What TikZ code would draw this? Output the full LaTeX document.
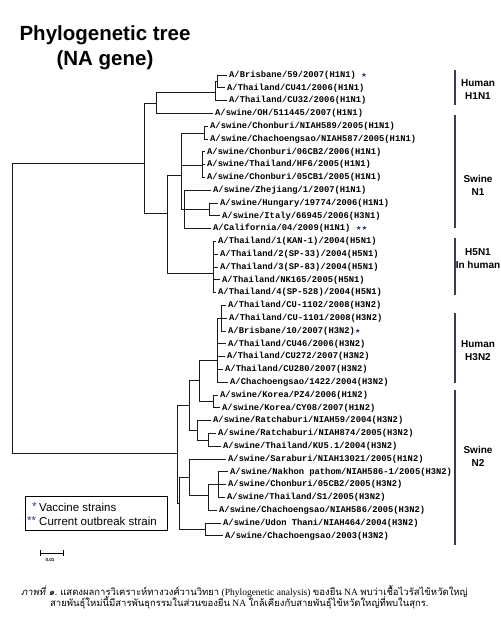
\documentclass[tikz,border=0pt]{standalone}
\usepackage{fontspec}
\setmainfont{Liberation Serif}
\newfontfamily\leafmono{Liberation Mono}
\newfontfamily\arialf{Liberation Sans}
\newfontfamily\thaif[Script=Thai]{Loma}
\newfontfamily\thaislant[Script=Thai,FakeSlant=0.2]{Loma}
\newfontfamily\symf{DejaVu Sans}
\definecolor{treeclr}{HTML}{1A1A1A}
\definecolor{barclr}{HTML}{3A3D4F}
\definecolor{starclr}{HTML}{2B3A7A}
\newcommand{\vstar}{{\symf\fontsize{6.5}{7}\selectfont\color{starclr}★}}
\begin{document}
\begin{tikzpicture}[x=1pt,y=-1pt,
  leaf/.style={anchor=west, inner sep=0pt, font=\leafmono\bfseries\fontsize{8.8}{10}\selectfont},
  br/.style={draw=treeclr, line width=0.9pt},
  grp/.style={align=center, inner sep=0pt, font=\arialf\bfseries\fontsize{10}{13}\selectfont},
  bar/.style={draw=barclr, line width=1.1pt},
  legtext/.style={anchor=west, inner sep=0pt, font=\arialf\fontsize{11.5}{13}\selectfont},
  captxt/.style={anchor=west, inner sep=0pt, font=\fontsize{9.5}{11}\selectfont}]
\useasboundingbox (0,0) rectangle (500,631);
\fill[white] (0,0) rectangle (500,631);

% title
\node[align=center, inner sep=0pt, font=\arialf\bfseries\fontsize{20.5}{25}\selectfont] (title) at (105,47.5) {Phylogenetic tree\\(NA gene)};

% leaves
\node[leaf] (l1) at (229,75.0) {A/Brisbane/59/2007(H1N1) \vstar};
\node[leaf] (l2) at (227,87.8) {A/Thailand/CU41/2006(H1N1)};
\node[leaf] (l3) at (229,100.6) {A/Thailand/CU32/2006(H1N1)};
\node[leaf] (l4) at (215,113.4) {A/swine/OH/511445/2007(H1N1)};
\node[leaf] (l5) at (210,126.2) {A/swine/Chonburi/NIAH589/2005(H1N1)};
\node[leaf] (l6) at (210,139.0) {A/swine/Chachoengsao/NIAH587/2005(H1N1)};
\node[leaf] (l7) at (207,151.8) {A/swine/Chonburi/06CB2/2006(H1N1)};
\node[leaf] (l8) at (207,164.6) {A/swine/Thailand/HF6/2005(H1N1)};
\node[leaf] (l9) at (207,177.4) {A/swine/Chonburi/05CB1/2005(H1N1)};
\node[leaf] (l10) at (213,190.2) {A/swine/Zhejiang/1/2007(H1N1)};
\node[leaf] (l11) at (220,203.0) {A/swine/Hungary/19774/2006(H1N1)};
\node[leaf] (l12) at (222,215.8) {A/swine/Italy/66945/2006(H3N1)};
\node[leaf] (l13) at (213,228.6) {A/California/04/2009(H1N1) \vstar\vstar};
\node[leaf] (l14) at (218,241.4) {A/Thailand/1(KAN-1)/2004(H5N1)};
\node[leaf] (l15) at (220,254.2) {A/Thailand/2(SP-33)/2004(H5N1)};
\node[leaf] (l16) at (220,267.0) {A/Thailand/3(SP-83)/2004(H5N1)};
\node[leaf] (l17) at (222,279.8) {A/Thailand/NK165/2005(H5N1)};
\node[leaf] (l18) at (218,292.6) {A/Thailand/4(SP-528)/2004(H5N1)};
\node[leaf] (l19) at (228,305.4) {A/Thailand/CU-1102/2008(H3N2)};
\node[leaf] (l20) at (229,318.2) {A/Thailand/CU-1101/2008(H3N2)};
\node[leaf] (l21) at (228,331.0) {A/Brisbane/10/2007(H3N2)\vstar};
\node[leaf] (l22) at (228,343.8) {A/Thailand/CU46/2006(H3N2)};
\node[leaf] (l23) at (227,356.6) {A/Thailand/CU272/2007(H3N2)};
\node[leaf] (l24) at (225,369.4) {A/Thailand/CU280/2007(H3N2)};
\node[leaf] (l25) at (230,382.2) {A/Chachoengsao/1422/2004(H3N2)};
\node[leaf] (l26) at (220,395.0) {A/swine/Korea/PZ4/2006(H1N2)};
\node[leaf] (l27) at (222,407.8) {A/swine/Korea/CY08/2007(H1N2)};
\node[leaf] (l28) at (213,420.6) {A/swine/Ratchaburi/NIAH59/2004(H3N2)};
\node[leaf] (l29) at (218,433.4) {A/swine/Ratchaburi/NIAH874/2005(H3N2)};
\node[leaf] (l30) at (223,446.2) {A/swine/Thailand/KU5.1/2004(H3N2)};
\node[leaf] (l31) at (228,459.0) {A/swine/Saraburi/NIAH13021/2005(H1N2)};
\node[leaf] (l32) at (230,471.8) {A/swine/Nakhon pathom/NIAH586-1/2005(H3N2)};
\node[leaf] (l33) at (228,484.6) {A/swine/Chonburi/05CB2/2005(H3N2)};
\node[leaf] (l34) at (227,497.4) {A/swine/Thailand/S1/2005(H3N2)};
\node[leaf] (l35) at (219,510.2) {A/swine/Chachoengsao/NIAH586/2005(H3N2)};
\node[leaf] (l36) at (223,523.0) {A/swine/Udon Thani/NIAH464/2004(H3N2)};
\node[leaf] (l37) at (225,535.8) {A/swine/Chachoengsao/2003(H3N2)};

% internal nodes
\coordinate (R) at (12,308);
\coordinate (T) at (144,163);
\coordinate (T1) at (156,103);
\coordinate (HH) at (215,92);
\coordinate (BC) at (217,81);
\coordinate (T2) at (167,213);
\coordinate (X) at (181,175);
\coordinate (N1) at (204,133);
\coordinate (N2) at (202,165);
\coordinate (Y) at (184,209);
\coordinate (HI) at (209,209);
\coordinate (H5) at (213,273);
\coordinate (B) at (177,453);
\coordinate (H4) at (189,405);
\coordinate (H3) at (199,380);
\coordinate (HB) at (217,360);
\coordinate (HA) at (221,318);
\coordinate (K) at (213,401);
\coordinate (RA) at (197,430);
\coordinate (RB) at (208,440);
\coordinate (B2) at (179,503);
\coordinate (S0) at (189,477);
\coordinate (S1) at (208,495);
\coordinate (S2) at (218,484);
\coordinate (U) at (205,529);

% branches between internal nodes
\foreach \p/\c in {R/T, R/B, T/T1, T/T2, T1/HH, HH/BC, T2/X, T2/H5, X/N1, X/N2, X/Y, Y/HI,
  B/H4, B/B2, H4/H3, H4/RA, H3/HB, H3/K, HB/HA, RA/RB, B2/S0, B2/U, S0/S1, S1/S2}
  \draw[br] (\p) |- (\c);

% branches to leaves
\foreach \p/\c in {BC/l1, BC/l2, HH/l3, T1/l4, N1/l5, N1/l6, N2/l7, N2/l8, N2/l9,
  Y/l10, HI/l11, HI/l12, Y/l13, H5/l14, H5/l15, H5/l16, H5/l17, H5/l18,
  HA/l19, HA/l20, HA/l21, HB/l22, HB/l23, HB/l24, HB/l25, K/l26, K/l27,
  RA/l28, RB/l29, RB/l30, S0/l31, S2/l32, S2/l33, S2/l34, S1/l35, U/l36, U/l37}
  \draw[br] (\p) |- ([xshift=-2pt]\c.west);

% group bars and labels
\draw[bar] (455,70) -- (455,105);
\draw[bar] (455,115) -- (455,228);
\draw[bar] (455,238) -- (455,295);
\draw[bar] (455,313) -- (455,383);
\draw[bar] (455,390) -- (455,545);
\node[grp] (g1) at (478,90) {Human\\H1N1};
\node[grp] (g2) at (478,185) {Swine\\N1};
\node[grp] (g3) at (478,259) {H5N1\\In human};
\node[grp] (g4) at (478,351) {Human\\H3N2};
\node[grp] (g5) at (478,456) {Swine\\N2};

% legend
\node[draw=black, line width=0.8pt, minimum width=142pt, minimum height=34pt, inner sep=0pt, anchor=north west] (legbox) at (25,496) {};
\node[legtext, text=starclr] (ls1) at (32,507) {*};
\node[legtext] (lt1) at (39,507) {Vaccine strains};
\node[legtext, text=starclr] (ls2) at (27,521) {**};
\node[legtext] (lt2) at (39,521) {Current outbreak strain};

% scale bar
\coordinate (sb1) at (40,553);
\coordinate (sb2) at (63,553);
\draw[line width=0.8pt] (sb1) -- (sb2);
\draw[line width=0.8pt] ([yshift=-3pt]sb1) -- ([yshift=3pt]sb1);
\draw[line width=0.8pt] ([yshift=-3pt]sb2) -- ([yshift=3pt]sb2);
\node[inner sep=0pt, font=\arialf\bfseries\fontsize{4.5}{5}\selectfont] (sbl) at (50,560) {0.01};

% caption
\node[captxt] (cap1) at (21,592) {{\thaislant ภาพที่ ๑.} {\thaif แสดงผลการวิเคราะห์ทางวงศ์วานวิทยา} (Phylogenetic analysis) {\thaif ของยีน} NA {\thaif พบว่าเชื้อไวรัสไข้หวัดใหญ่}};
\node[captxt] (cap2) at (50,603) {{\thaif สายพันธุ์ใหม่นี้มีสารพันธุกรรมในส่วนของยีน} NA {\thaif ใกล้เคียงกับสายพันธุ์ไข้หวัดใหญ่ที่พบในสุกร.}};
\end{tikzpicture}
\end{document}
